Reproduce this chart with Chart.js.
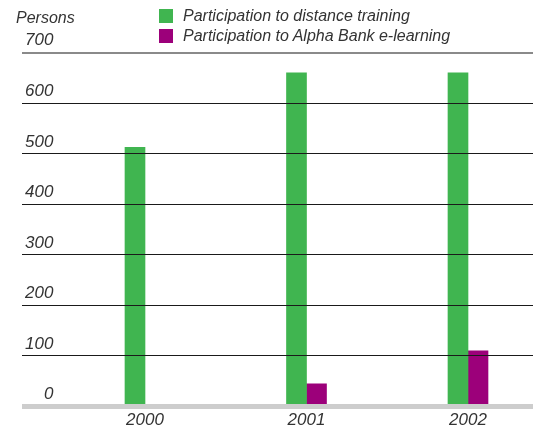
<!DOCTYPE html>
<html>
<head>
<meta charset="utf-8">
<script src="https://cdn.jsdelivr.net/npm/chart.js@4/dist/chart.umd.min.js"></script>
<style>
  html, body { margin: 0; padding: 0; background: #fff; }
  #wrap { position: relative; width: 535px; height: 429px; }
  #legend {
    position: absolute; left: 159px; top: 6px; margin: 0; padding: 0; list-style: none;
    font: italic 16px "Liberation Sans", Arial, sans-serif; color: #333;
  }
  #legend li { display: flex; align-items: center; height: 20px; white-space: nowrap; }
  #legend .box { display: inline-block; width: 14px; height: 14px; margin-right: 10px; }
</style>
</head>
<body>
<div id="wrap">
  <canvas id="chart" width="535" height="429"></canvas>
  <ul id="legend"></ul>
</div>
<script>
// Participants per year
const years = [2000, 2001, 2002];
const distanceTraining = [513, 660, 660];
const alphaElearning = [0, 45, 110];
const seriesNames = ['Participation to distance training', 'Participation to Alpha Bank e-learning'];
const seriesColors = ['#40b550', '#9c007a'];
const yMax = 700;
const yStep = 100;

const FONT = '"Liberation Sans", Arial, sans-serif';
const TEXT = '#333333';

const toPoints = (vals) => years.map((yr, i) => ({ x: yr, y: vals[i] }));

const chart = new Chart(document.getElementById('chart'), {
  type: 'bar',
  data: {
    datasets: [
      { label: seriesNames[0], data: toPoints(distanceTraining), backgroundColor: seriesColors[0] },
      { label: seriesNames[1], data: toPoints(alphaElearning), backgroundColor: seriesColors[1] }
    ]
  },
  options: {
    responsive: false,
    animation: false,
    events: [],
    layout: { padding: { left: 16, right: 2, top: 0, bottom: 0 } },
    datasets: { bar: { barThickness: 20, borderWidth: 0 } },
    plugins: {
      legend: { display: false },
      tooltip: { enabled: false },
      title: {
        display: true,
        text: 'Persons',
        align: 'start',
        color: TEXT,
        font: { family: FONT, size: 16, style: 'italic', weight: 'normal' },
        padding: { top: 9.4, bottom: 24.1 }
      }
    },
    scales: {
      x: {
        type: 'linear',
        offset: false,
        min: 1999.2384,
        max: 2002.4025,
        grid: { display: false, drawTicks: false, offset: false },
        border: { display: false },
        afterBuildTicks: (s) => { s.ticks = years.map(v => ({ value: v })); },
        afterFit: (s) => { s.height = 22.5; },
        ticks: {
          padding: 3.3,
          color: TEXT,
          font: { family: FONT, size: 17, style: 'italic' },
          callback: (v) => String(v)
        }
      },
      y: {
        min: 0,
        max: yMax,
        border: { display: false },
        grid: {
          z: 1,
          drawTicks: false,
          color: (ctx) => {
            const v = ctx.tick ? ctx.tick.value : null;
            if (v === yMax) return '#8a8a8a';
            if (v === 0) return '#cdcdcd';
            return '#1a1a1a';
          },
          lineWidth: (ctx) => {
            const v = ctx.tick ? ctx.tick.value : null;
            if (v === yMax) return 2;
            if (v === 0) return 5;
            return 1;
          }
        },
        ticks: {
          stepSize: yStep,
          mirror: true,
          crossAlign: 'far',
          padding: 3,
          labelOffset: -12,
          color: TEXT,
          font: { family: FONT, size: 17, style: 'italic' }
        }
      }
    }
  }
});

// Legend list built from the chart's own legend items
const legendEl = document.getElementById('legend');
Chart.defaults.plugins.legend.labels.generateLabels(chart).forEach((item) => {
  const li = document.createElement('li');
  const box = document.createElement('span');
  box.className = 'box';
  box.style.background = item.fillStyle;
  li.appendChild(box);
  li.appendChild(document.createTextNode(item.text));
  legendEl.appendChild(li);
});
</script>
</body>
</html>
